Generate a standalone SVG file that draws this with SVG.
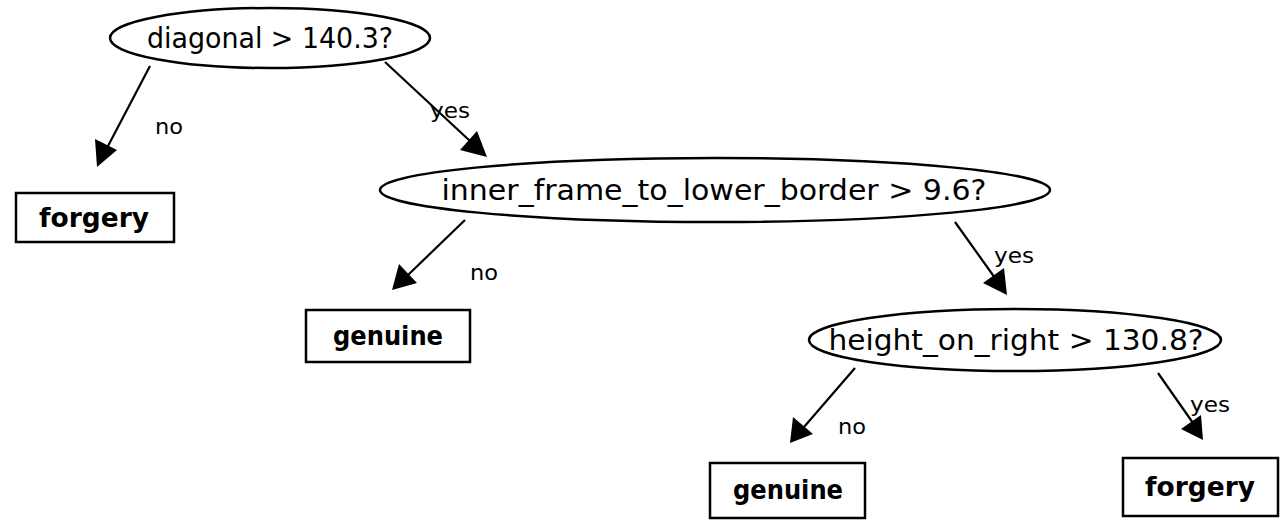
<svg xmlns="http://www.w3.org/2000/svg" width="1285" height="520" viewBox="0 0 1285 520">
  <defs>
    <style>
      .q { fill: #fff; stroke: #000; stroke-width: 2.5; }
      .leaf { fill: #fff; stroke: #000; stroke-width: 2.5; }
      .qt { font-family: "DejaVu Sans", sans-serif; font-size: 29px; fill: #000; text-anchor: middle; }
      .lt { font-family: "DejaVu Sans", sans-serif; font-size: 27px; font-weight: bold; fill: #000; text-anchor: middle; }
      .el { font-family: "DejaVu Sans", sans-serif; font-size: 22px; fill: #000; }
      .edge { stroke: #000; stroke-width: 2.2; fill: none; }
      .head { fill: #000; }
    </style>
  </defs>

  <!-- connectors: shaft + filled arrowhead, with branch labels -->
  <g id="connectors">
    <line class="edge" x1="150" y1="66" x2="108" y2="146"/>
    <polygon class="head" points="97,167 95,139 117,150"/>
    <text class="el" x="155" y="134" textLength="28" lengthAdjust="spacingAndGlyphs">no</text>

    <line class="edge" x1="385" y1="62" x2="470" y2="141"/>
    <polygon class="head" points="487,157 460,150 477,131"/>
    <text class="el" x="430" y="118" textLength="40" lengthAdjust="spacingAndGlyphs">yes</text>

    <line class="edge" x1="465" y1="220" x2="408" y2="275"/>
    <polygon class="head" points="392,290 399,264 417,283"/>
    <text class="el" x="470" y="280" textLength="28" lengthAdjust="spacingAndGlyphs">no</text>

    <line class="edge" x1="955" y1="222" x2="995" y2="278"/>
    <polygon class="head" points="1007,295 983,283 1004,268"/>
    <text class="el" x="994" y="263" textLength="40" lengthAdjust="spacingAndGlyphs">yes</text>

    <line class="edge" x1="855" y1="368" x2="804" y2="427"/>
    <polygon class="head" points="790,443 793,417 813,434"/>
    <text class="el" x="838" y="434" textLength="28" lengthAdjust="spacingAndGlyphs">no</text>

    <line class="edge" x1="1158" y1="373" x2="1193" y2="423"/>
    <polygon class="head" points="1203,440 1181,429 1201,415"/>
    <text class="el" x="1190" y="412" textLength="40" lengthAdjust="spacingAndGlyphs">yes</text>
  </g>

  <g id="node-diagonal">
    <ellipse class="q" cx="270" cy="38" rx="160" ry="30"/>
    <text class="qt" x="270" y="48" textLength="246" lengthAdjust="spacingAndGlyphs">diagonal &gt; 140.3?</text>
  </g>

  <g id="node-forgery-1">
    <rect class="leaf" x="16" y="193" width="158" height="49"/>
    <text class="lt" x="94" y="227" textLength="110" lengthAdjust="spacingAndGlyphs">forgery</text>
  </g>

  <g id="node-inner-frame">
    <ellipse class="q" cx="715" cy="190" rx="335" ry="32"/>
    <text class="qt" x="714" y="200" textLength="545" lengthAdjust="spacingAndGlyphs">inner_frame_to_lower_border &gt; 9.6?</text>
  </g>

  <g id="node-genuine-1">
    <rect class="leaf" x="306" y="310" width="164" height="52"/>
    <text class="lt" x="388" y="345" textLength="110" lengthAdjust="spacingAndGlyphs">genuine</text>
  </g>

  <g id="node-height-right">
    <ellipse class="q" cx="1015" cy="340" rx="206" ry="31"/>
    <text class="qt" x="1016" y="350" textLength="375" lengthAdjust="spacingAndGlyphs">height_on_right &gt; 130.8?</text>
  </g>

  <g id="node-genuine-2">
    <rect class="leaf" x="710" y="463" width="155" height="55"/>
    <text class="lt" x="788" y="499" textLength="110" lengthAdjust="spacingAndGlyphs">genuine</text>
  </g>

  <g id="node-forgery-2">
    <rect class="leaf" x="1123" y="458" width="155" height="58"/>
    <text class="lt" x="1200" y="496" textLength="110" lengthAdjust="spacingAndGlyphs">forgery</text>
  </g>
</svg>
